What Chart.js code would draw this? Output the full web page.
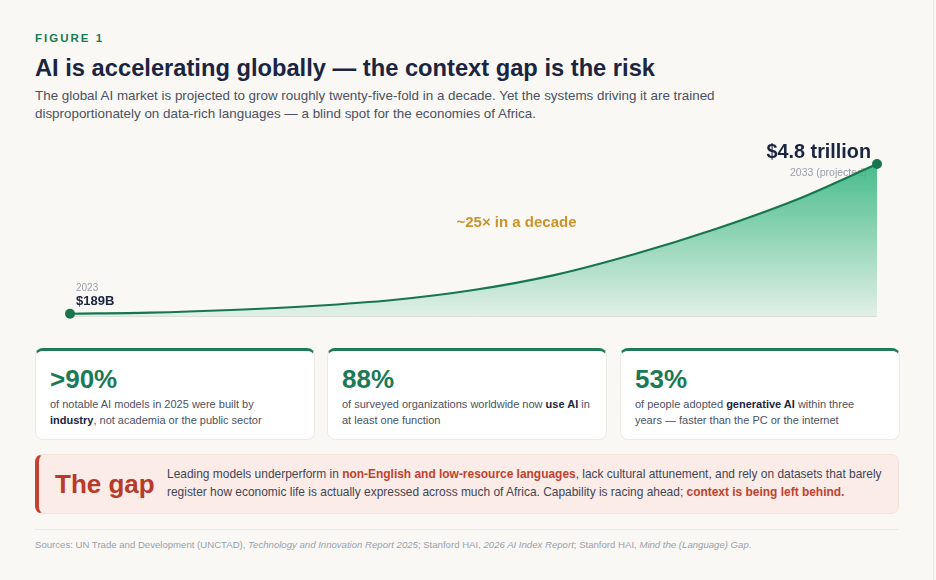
<!DOCTYPE html>
<html>
<head>
<meta charset="utf-8">
<script src="https://cdn.jsdelivr.net/npm/chart.js@4.4.0/dist/chart.umd.min.js"></script>
<style>
  html, body { margin: 0; padding: 0; }
  body {
    width: 936px; height: 580px; position: relative; overflow: hidden;
    background: #f9f8f5;
    font-family: "Liberation Sans", Arial, sans-serif;
    color: #1b2440;
  }
  .abs { position: absolute; white-space: nowrap; }
  .eyebrow { left: 35px; top: 31px; font-size: 11.5px; line-height: 14px; font-weight: bold; letter-spacing: 2px; color: #1a7a55; }
  .title { left: 35px; top: 54px; font-size: 23.7px; line-height: 28px; font-weight: bold; color: #1b2440; }
  .sub { left: 35px; top: 87px; font-size: 13.4px; line-height: 18px; color: #4b5262; }
  #chartBox { position: absolute; left: 0; top: 130px; width: 936px; height: 200px; }
  .card {
    position: absolute; top: 348px; width: 280px; height: 92px; box-sizing: border-box;
    background: #ffffff; border: 1px solid #eceae5; border-top: 3px solid #1f7a58; border-radius: 8px;
  }
  .card .num { position: absolute; left: 14px; top: 13px; font-size: 26px; line-height: 30px; font-weight: bold; color: #1a7a55; }
  .card .txt { position: absolute; left: 14px; top: 45px; font-size: 11px; line-height: 16px; color: #4b5262; white-space: nowrap; }
  .card .txt b { color: #1b2440; }
  .gap {
    position: absolute; left: 35px; top: 454px; width: 864px; height: 60px; box-sizing: border-box;
    background: #fbece7; border: 1px solid #f3e2dc; border-left: 4px solid #c2432f; border-radius: 8px;
  }
  .gap .head { position: absolute; left: 16px; top: 14px; font-size: 26px; line-height: 30px; font-weight: bold; color: #b83a2a; }
  .gap .txt { position: absolute; left: 128px; top: 10px; font-size: 11.95px; line-height: 18px; color: #3f4656; white-space: nowrap; }
  .gap .txt b { color: #c0412e; }
  .rule { position: absolute; left: 35px; top: 529px; width: 864px; height: 1px; background: #ecebe6; }
  .src { left: 35px; top: 539px; font-size: 9.6px; line-height: 12px; color: #9aa0ab; }
  .edge { position: absolute; left: 933px; top: 0; width: 1px; height: 580px; background: #e9e7e2; }
</style>
</head>
<body>
<div class="abs eyebrow">FIGURE 1</div>
<div class="abs title">AI is accelerating globally — the context gap is the risk</div>
<div class="abs sub">The global AI market is projected to grow roughly twenty-five-fold in a decade. Yet the systems driving it are trained<br>disproportionately on data-rich languages — a blind spot for the economies of Africa.</div>

<div id="chartBox"><canvas id="growth-chart"></canvas></div>

<div class="card" style="left:35px">
  <div class="num">&gt;90%</div>
  <div class="txt">of notable AI models in 2025 were built by<br><b>industry</b>, not academia or the public sector</div>
</div>
<div class="card" style="left:327px">
  <div class="num">88%</div>
  <div class="txt">of surveyed organizations worldwide now <b>use AI</b> in<br>at least one function</div>
</div>
<div class="card" style="left:620px">
  <div class="num">53%</div>
  <div class="txt">of people adopted <b>generative AI</b> within three<br>years — faster than the PC or the internet</div>
</div>

<div class="gap">
  <div class="head">The gap</div>
  <div class="txt">Leading models underperform in <b>non-English and low-resource languages</b>, lack cultural attunement, and rely on datasets that barely<br>register how economic life is actually expressed across much of Africa. Capability is racing ahead; <b>context is being left behind.</b></div>
</div>

<div class="rule"></div>
<div class="abs src">Sources: UN Trade and Development (UNCTAD), <i>Technology and Innovation Report 2025</i>; Stanford HAI, <i>2026 AI Index Report</i>; Stanford HAI, <i>Mind the (Language) Gap</i>.</div>
<div class="edge"></div>

<script>
// Dados do mercado global de IA (bilhões de US$)
const years = ['2023', '2024', '2025', '2026', '2027', '2028', '2029', '2030', '2031', '2032', '2033'];
const marketValues = [189, 222, 305, 428, 613, 920, 1380, 2030, 2800, 3700, 4800];
const startLabels = ['2023', '$189B'];
const endLabels = ['$4.8 trillion', '2033 (projected)'];
const midLabel = '~25× in a decade';

const GREEN = '#17764f';
const FONT = '"Liberation Sans", Arial, sans-serif';

// Linha de base e rótulos, desenhados antes da área (o texto fica por baixo)
const labelsPlugin = {
    id: 'labels',
    beforeDatasetsDraw(chart) {
        const { ctx, chartArea, scales } = chart;
        const last = years.length - 1;

        ctx.save();
        ctx.strokeStyle = '#dcdeda';
        ctx.lineWidth = 1;
        ctx.beginPath();
        ctx.moveTo(chartArea.left, chartArea.bottom + 0.5);
        ctx.lineTo(chartArea.right, chartArea.bottom + 0.5);
        ctx.stroke();

        const x0 = scales.x.getPixelForValue(0);
        const y0 = scales.y.getPixelForValue(marketValues[0]);
        const x1 = scales.x.getPixelForValue(last);
        const y1 = scales.y.getPixelForValue(marketValues[last]);

        ctx.textBaseline = 'middle';
        ctx.textAlign = 'left';
        ctx.fillStyle = '#9aa0ab';
        ctx.font = '10px ' + FONT;
        ctx.fillText(startLabels[0], x0 + 6, y0 - 26);
        ctx.fillStyle = '#1b2440';
        ctx.font = 'bold 13px ' + FONT;
        ctx.fillText(startLabels[1], x0 + 6, y0 - 12);

        ctx.textAlign = 'right';
        ctx.font = 'bold 19.8px ' + FONT;
        ctx.fillText(endLabels[0], x1 - 6, y1 - 11);
        ctx.textAlign = 'left';
        ctx.fillStyle = '#9aa0ab';
        ctx.font = '10.5px ' + FONT;
        ctx.fillText(endLabels[1], x1 - 87, y1 + 9);

        ctx.textAlign = 'center';
        ctx.fillStyle = '#c9952b';
        ctx.font = 'bold 15px ' + FONT;
        ctx.fillText(midLabel, (chartArea.left + chartArea.right) / 2 + 43, chartArea.top + 59);
        ctx.restore();
    }
};

function areaGradient(context) {
    const { ctx, chartArea } = context.chart;
    if (!chartArea) return 'rgba(60,180,130,0.4)';
    const g = ctx.createLinearGradient(0, chartArea.top, 0, chartArea.bottom);
    g.addColorStop(0, 'rgba(62,184,132,0.95)');
    g.addColorStop(1, 'rgba(62,184,132,0.12)');
    return g;
}

const ctx = document.getElementById('growth-chart').getContext('2d');
window.growthChart = new Chart(ctx, {
    type: 'line',
    data: {
        labels: years,
        datasets: [{
            data: marketValues,
            borderColor: GREEN,
            borderWidth: 2.2,
            backgroundColor: areaGradient,
            fill: 'start',
            cubicInterpolationMode: 'monotone',
            pointRadius: c => (c.dataIndex === 0 || c.dataIndex === years.length - 1) ? 5 : 0,
            pointBackgroundColor: GREEN,
            pointBorderWidth: 0,
            clip: false
        }]
    },
    options: {
        responsive: true,
        maintainAspectRatio: false,
        animation: false,
        layout: { padding: { left: 70, right: 59, top: 34, bottom: 14 } },
        plugins: { legend: { display: false }, tooltip: { enabled: false } },
        scales: {
            x: { display: false, offset: false },
            y: { display: false, min: 120, max: 4800 }
        }
    },
    plugins: [labelsPlugin]
});
</script>
</body>
</html>
